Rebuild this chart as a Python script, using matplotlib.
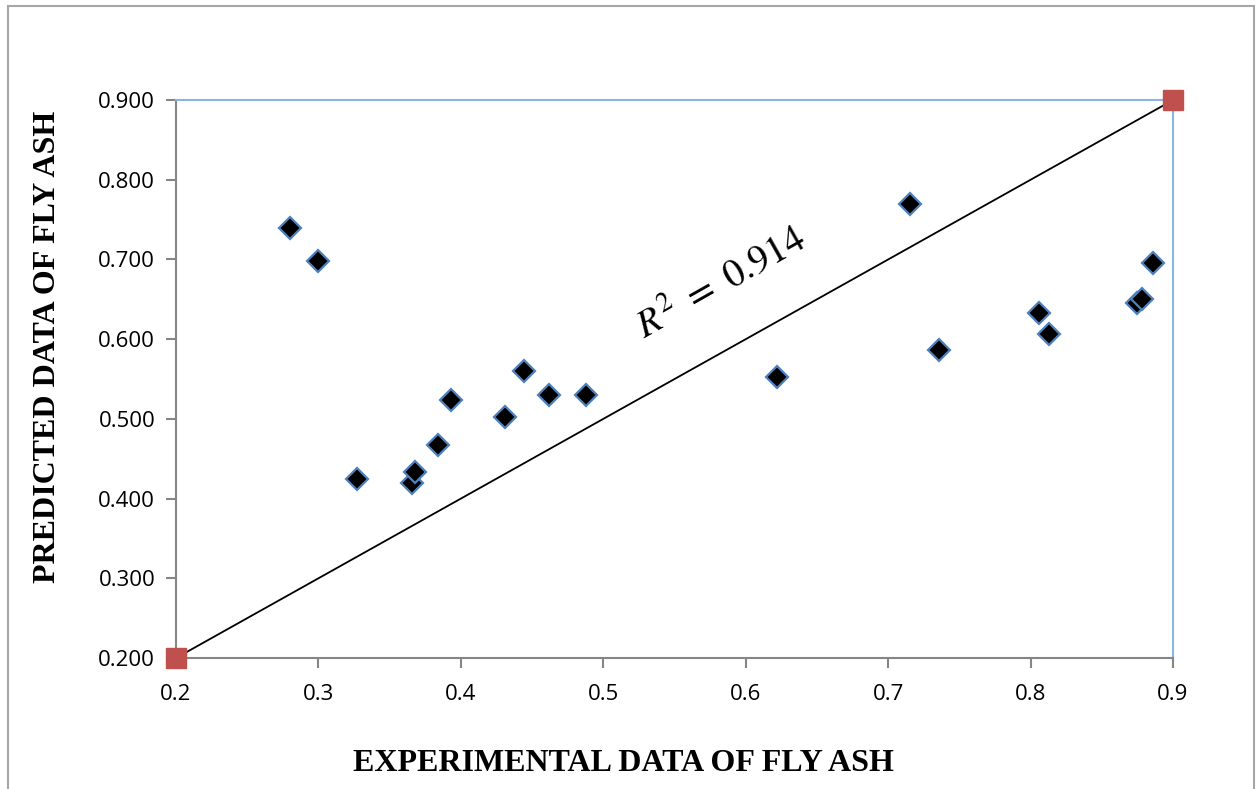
import matplotlib
matplotlib.use("Agg")
import matplotlib.pyplot as plt
from matplotlib.patches import Rectangle

# DATOS
experimental = [0.280, 0.300, 0.327, 0.366, 0.368, 0.384, 0.393, 0.431, 0.444,
                0.462, 0.488, 0.622, 0.715, 0.736, 0.806, 0.813, 0.875, 0.878, 0.886]
predicted = [0.740, 0.698, 0.425, 0.420, 0.434, 0.467, 0.524, 0.503, 0.560,
             0.530, 0.530, 0.553, 0.769, 0.587, 0.633, 0.606, 0.646, 0.650, 0.696]
ideal_x = [0.2, 0.9]
ideal_y = [0.2, 0.9]
x_ticks = [0.2, 0.3, 0.4, 0.5, 0.6, 0.7, 0.8, 0.9]
y_ticks = [0.2, 0.3, 0.4, 0.5, 0.6, 0.7, 0.8, 0.9]
r2_text = r"$R^2\ =\ 0.914$"

plt.rcParams["mathtext.fontset"] = "stix"

fig = plt.figure(figsize=(12.57, 7.89), dpi=100)
ax = fig.add_axes([0.140, 0.166, 0.7932, 0.7072])

# marco exterior
fig.patches.append(Rectangle((8 / 1257, -0.05), 1246 / 1257, 0.05 + 783 / 789,
                             transform=fig.transFigure, fill=False,
                             edgecolor="#a6a6a6", linewidth=1.5))

# linea ideal y puntos extremos
ax.plot(ideal_x, ideal_y, color="black", linewidth=1.3, zorder=2)
ax.plot(ideal_x, ideal_y, linestyle="none", marker="s", markersize=14,
        color="#C0504D", clip_on=False, zorder=3)

# datos
ax.plot(experimental, predicted, linestyle="none", marker="D", markersize=11,
        markerfacecolor="black", markeredgecolor="#4F81BD", markeredgewidth=1.6,
        zorder=4)

ax.set_xlim(0.2, 0.9)
ax.set_ylim(0.2, 0.9)
ax.set_xticks(x_ticks)
ax.set_yticks(y_ticks)
ax.set_xticklabels([f"{v:.1f}" for v in x_ticks])
ax.set_yticklabels([f"{v:.3f}" for v in y_ticks])

for lab in ax.get_xticklabels() + ax.get_yticklabels():
    lab.set_fontfamily("Open Sans")
    lab.set_fontsize(16)

ax.tick_params(axis="both", direction="out", length=7, width=1.5, color="#868686")
ax.tick_params(axis="x", pad=12)
ax.tick_params(axis="y", pad=8)

ax.spines["left"].set_color("#868686")
ax.spines["bottom"].set_color("#868686")
ax.spines["left"].set_linewidth(1.5)
ax.spines["bottom"].set_linewidth(1.5)
ax.spines["top"].set_color("#8EB4E3")
ax.spines["right"].set_color("#8EB4E3")
ax.spines["top"].set_linewidth(1.5)
ax.spines["right"].set_linewidth(1.5)

ax.set_xlabel("EXPERIMENTAL DATA OF FLY ASH", fontfamily="Liberation Serif",
              fontweight="bold", fontsize=23)
ax.set_ylabel("PREDICTED DATA OF FLY ASH", fontfamily="Liberation Serif",
              fontweight="bold", fontsize=23)
ax.xaxis.set_label_coords(0.449, -0.163)
ax.yaxis.set_label_coords(-0.114, 0.557)

ax.text(0.583, 0.670, r2_text, fontsize=28, rotation=29.5,
        ha="center", va="center")

fig.savefig("out.png", dpi=100)
